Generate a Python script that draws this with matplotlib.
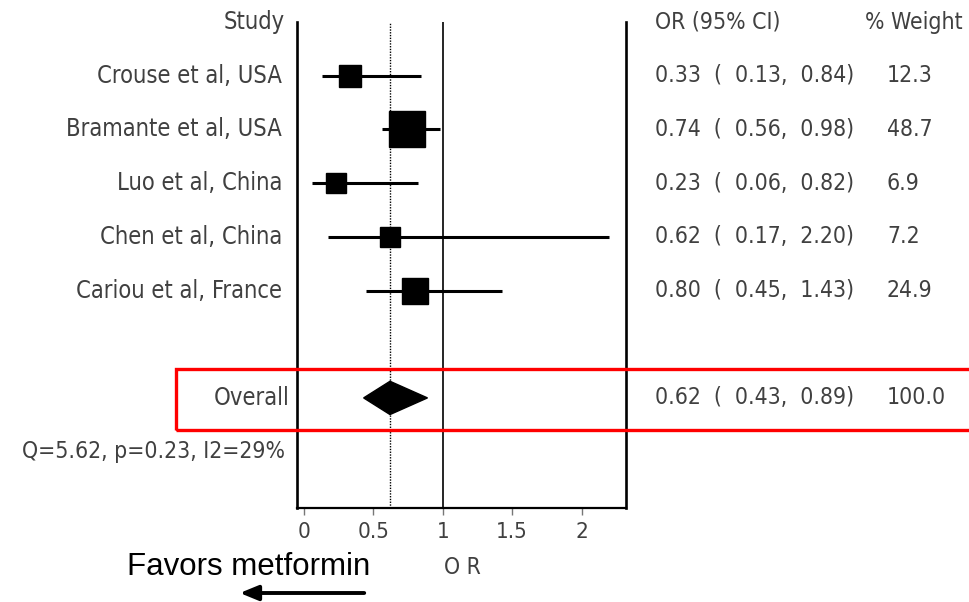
import matplotlib
matplotlib.use("Agg")
import matplotlib.pyplot as plt
from matplotlib.patches import Polygon, Rectangle, FancyArrowPatch
from matplotlib.transforms import blended_transform_factory

# study level results
studies = ["Crouse et al, USA", "Bramante et al, USA", "Luo et al, China",
           "Chen et al, China", "Cariou et al, France"]
or_est = [0.33, 0.74, 0.23, 0.62, 0.80]
ci_lo = [0.13, 0.56, 0.06, 0.17, 0.45]
ci_hi = [0.84, 0.98, 0.82, 2.20, 1.43]
weights = [12.3, 48.7, 6.9, 7.2, 24.9]

# pooled estimate
overall_est = 0.62
overall_lo = 0.43
overall_hi = 0.89
overall_weight = 100.0
het_text = "Q=5.62, p=0.23, I2=29%"

xticks = [0, 0.5, 1, 1.5, 2]

W, H = 970, 602
GRAY = "#404040"
plt.rcParams['font.family'] = ['DejaVu Sans']
plt.rcParams['font.stretch'] = 'condensed'

fig = plt.figure(figsize=(W / 100, H / 100), dpi=100)
ax = fig.add_axes([297 / W, 1 - 508 / H, (626 - 297) / W, (508 - 22) / H])

rows = list(range(1, len(studies) + 1))
overall_row = len(studies) + 2
het_row = overall_row + 1

ax.set_xlim(-0.05, 2.32)
ax.set_ylim(9.05, 0)

# reference lines
ax.axvline(1, color="k", lw=1.2, zorder=1)
ax.axvline(overall_est, color="k", lw=1.0, ls=(0, (1, 1)), zorder=1)

# CIs and weighted boxes
for r, est, lo, hi, w in zip(rows, or_est, ci_lo, ci_hi, weights):
    ax.plot([lo, hi], [r, r], color="k", lw=2.2, solid_capstyle="butt", zorder=2)
    side = (17 + 0.4 * w) * 0.72
    ax.plot(est, r, marker="s", ms=side, color="k", zorder=3)

# pooled diamond
dh = 0.31
ax.add_patch(Polygon([(overall_lo, overall_row), (overall_est, overall_row - dh),
                      (overall_hi, overall_row), (overall_est, overall_row + dh)],
                     closed=True, color="k", zorder=3))

ax.spines["top"].set_visible(False)
ax.spines["left"].set_linewidth(1.9)
ax.spines["right"].set_linewidth(1.9)
ax.spines["bottom"].set_linewidth(1.6)
ax.set_yticks([])
ax.set_xticks(xticks)
ax.set_xticklabels([f"{t:g}" for t in xticks])
ax.tick_params(axis="x", direction="out", length=5, width=1, color="#777777",
               labelcolor=GRAY, labelsize=16, pad=5)

# text columns
tr = blended_transform_factory(fig.transFigure, ax.transData)
fs = 16.5
fs_lab = 17
ax.text(285 / W, 0, "Study", transform=tr, ha="right", va="center", fontsize=fs_lab, color=GRAY)
ax.text(655 / W, 0, "OR (95% CI)", transform=tr, ha="left", va="center", fontsize=fs, color=GRAY)
ax.text(865 / W, 0, "% Weight", transform=tr, ha="left", va="center", fontsize=fs, color=GRAY)

for r, name, est, lo, hi, w in zip(rows, studies, or_est, ci_lo, ci_hi, weights):
    ax.text(282 / W, r, name, transform=tr, ha="right", va="center", fontsize=fs_lab, color=GRAY)
    ax.text(655 / W, r, f"{est:.2f}  (  {lo:.2f},  {hi:.2f})", transform=tr,
            ha="left", va="center", fontsize=fs, color=GRAY)
    ax.text(887 / W, r, f"{w:.1f}", transform=tr, ha="left", va="center", fontsize=fs, color=GRAY)

ax.text(290 / W, overall_row, "Overall", transform=tr, ha="right", va="center",
        fontsize=fs_lab, color=GRAY)
ax.text(655 / W, overall_row, f"{overall_est:.2f}  (  {overall_lo:.2f},  {overall_hi:.2f})",
        transform=tr, ha="left", va="center", fontsize=fs, color=GRAY)
ax.text(887 / W, overall_row, f"{overall_weight:.1f}", transform=tr, ha="left",
        va="center", fontsize=fs, color=GRAY)
ax.text(22 / W, het_row, het_text, transform=tr, ha="left", va="center",
        fontsize=fs, color=GRAY)

# axis title and direction note
fig.text(462 / W, 1 - 568 / H, "O R", ha="center", va="center", fontsize=fs, color=GRAY)
fig.text(249 / W, 1 - 567 / H, "Favors metformin", ha="center", va="center",
         fontsize=22.5, color="k", family=["Liberation Sans"], stretch="normal")
fig.add_artist(FancyArrowPatch((367 / W, 1 - 593 / H), (237 / W, 1 - 593 / H),
                               transform=fig.transFigure,
                               arrowstyle="-|>,head_length=11,head_width=4.5",
                               color="k", lw=2.8, mutation_scale=1))

# highlight box around the pooled row
fig.add_artist(Rectangle((176 / W, 1 - 430 / H), 1.0, (430 - 369) / H,
                         transform=fig.transFigure, fill=False, ec="#ff0000", lw=2.4))

fig.savefig("out.png", dpi=100)
